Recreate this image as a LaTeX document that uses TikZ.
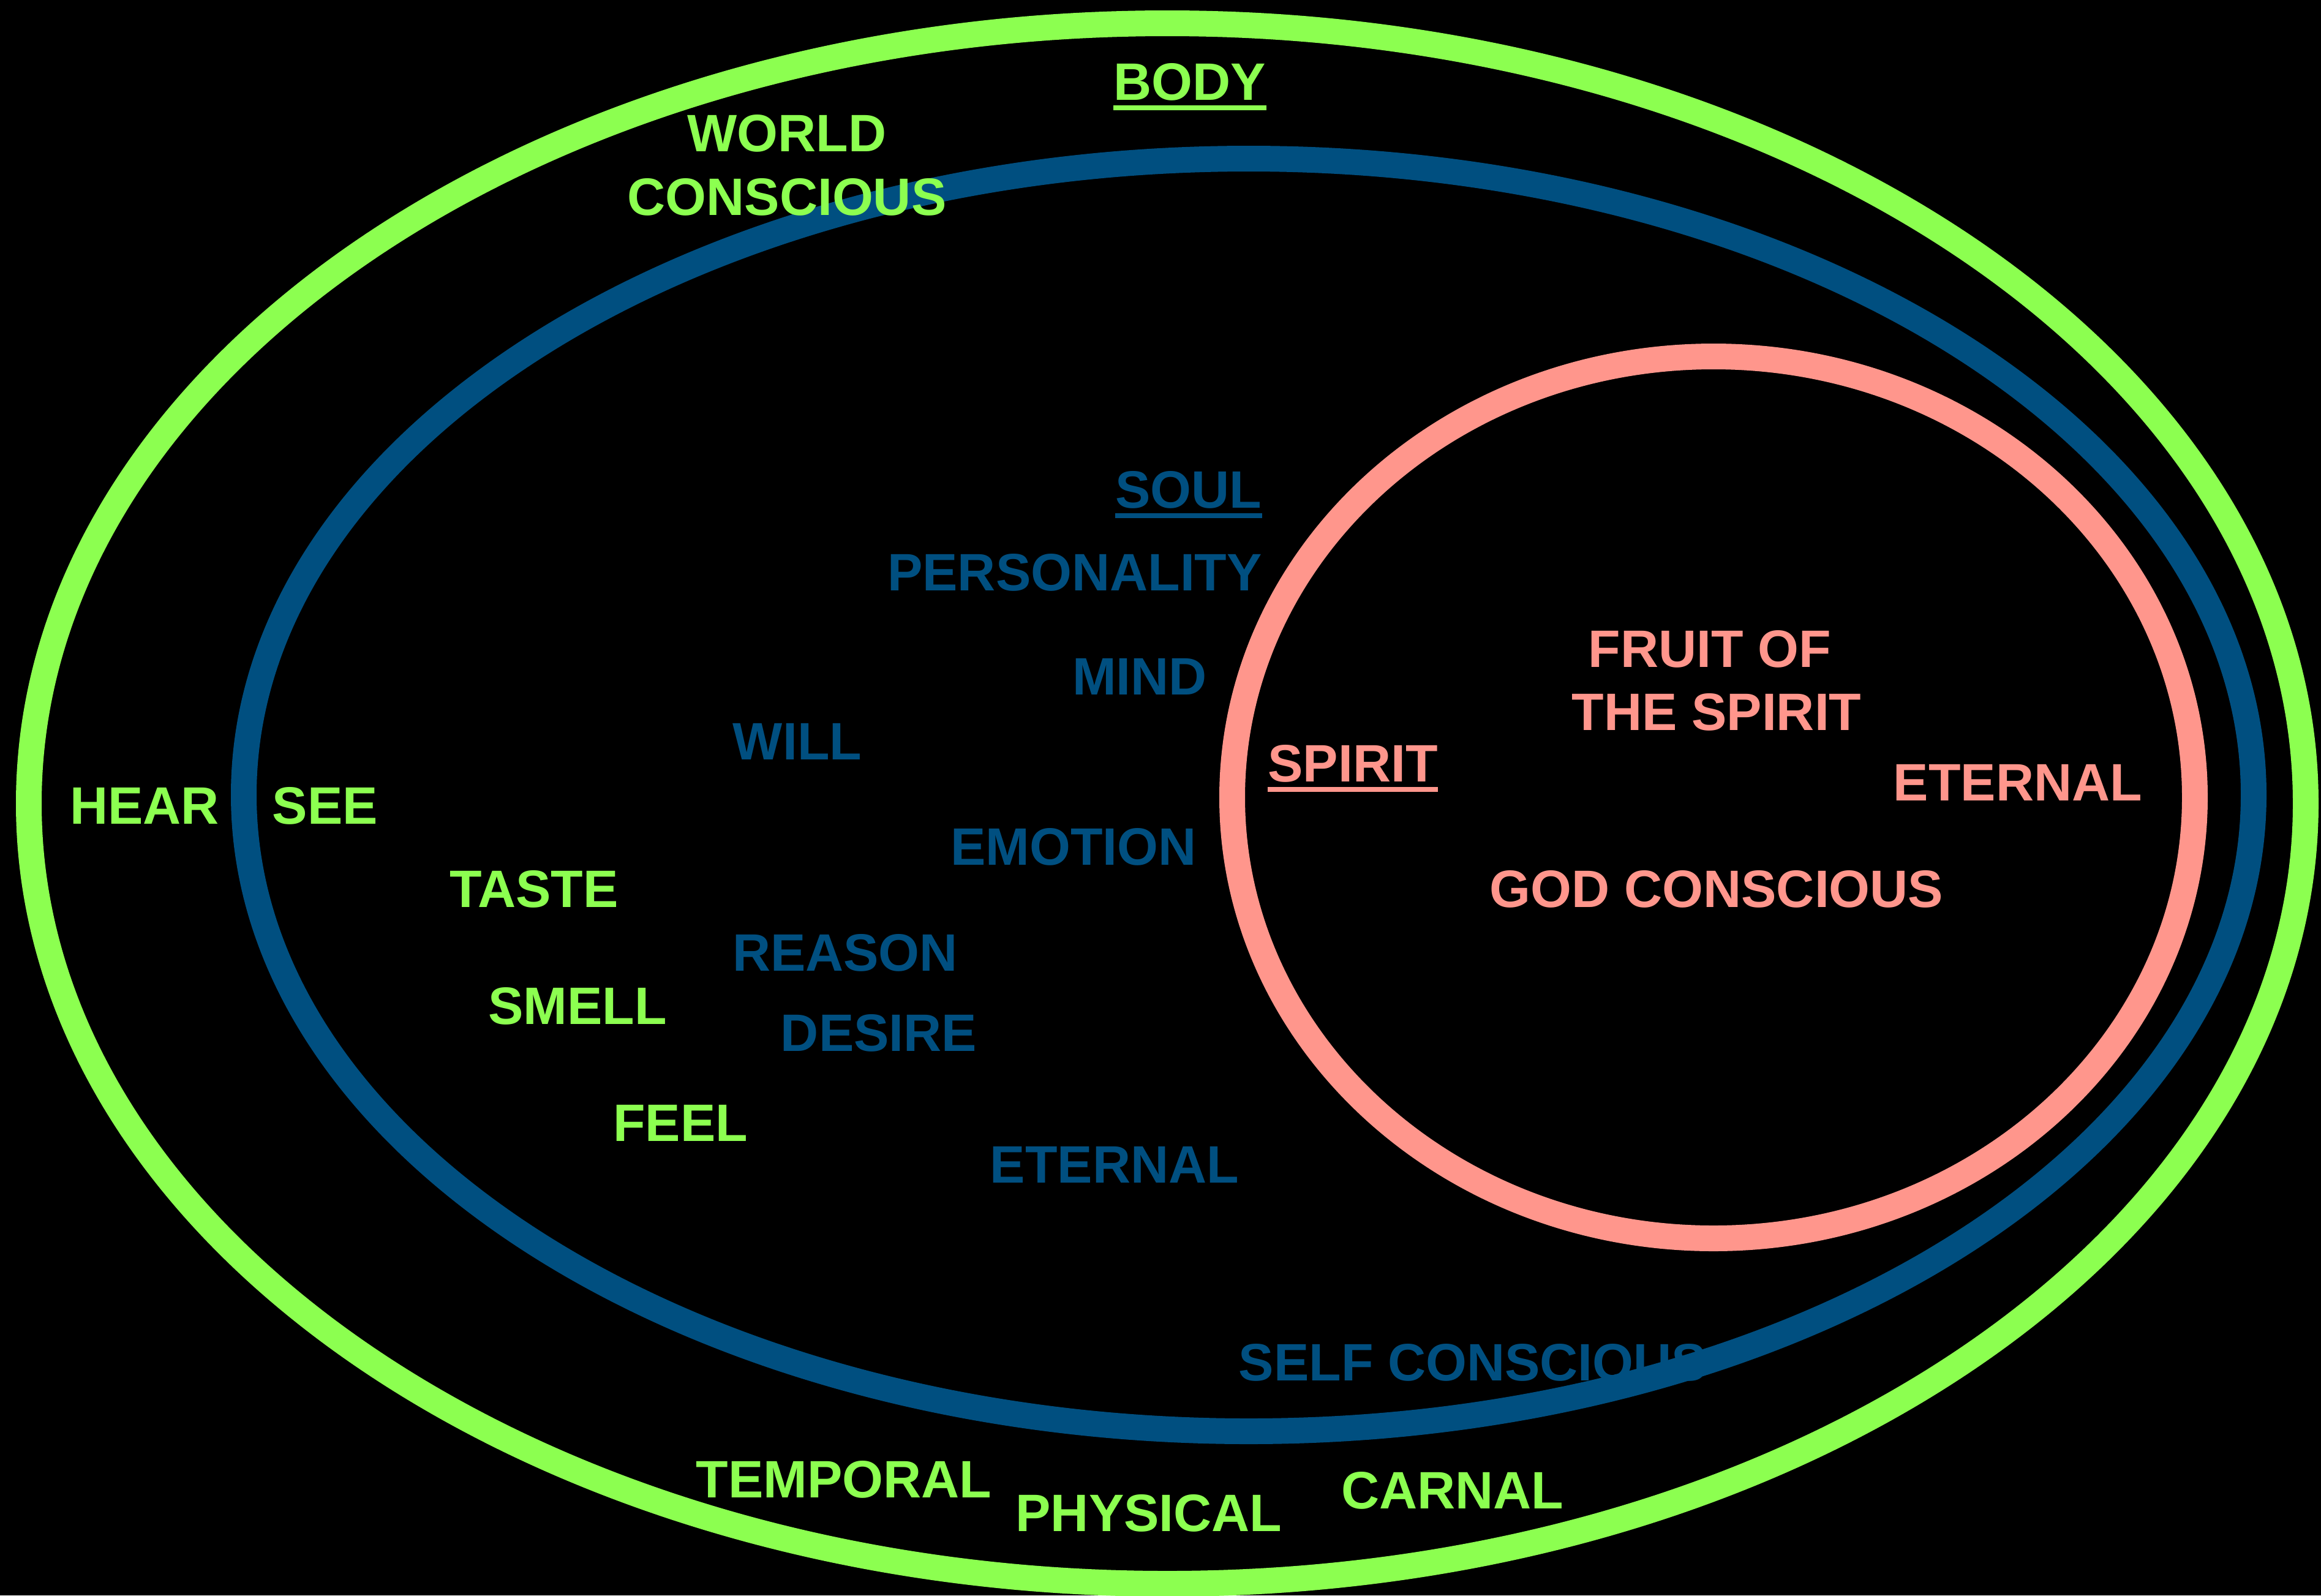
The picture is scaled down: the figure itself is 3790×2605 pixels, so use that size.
\documentclass[tikz,border=0pt]{standalone}
\usepackage{fontspec}
\setmainfont{Liberation Sans}
\definecolor{bodyg}{RGB}{140,255,80}
\definecolor{soulb}{RGB}{0,79,128}
\definecolor{spiritp}{RGB}{255,150,140}
\begin{document}
\begin{tikzpicture}[x=0.25pt,y=-0.25pt,
  lbl/.style={inner sep=0pt,anchor=base,font=\bfseries\fontsize{21.5pt}{25.75pt}\selectfont},
  gtxt/.style={lbl,text=bodyg},
  btxt/.style={lbl,text=soulb},
  ptxt/.style={lbl,text=spiritp},
  ring/.style={line width=10.5pt},
  uline/.style={line width=2pt}]
\fill[black] (0,0) rectangle (3790,2605);
\useasboundingbox (0,0) rectangle (3790,2605);
% rings
\draw[ring,bodyg] (1906,1312) ellipse [x radius=1859,y radius=1274];
\draw[ring,soulb] (2039,1298) ellipse [x radius=1641,y radius=1039];
\draw[ring,spiritp] (2798,1302) ellipse [x radius=786,y radius=720];
% body labels
\node[gtxt] (body) at (1943,163) {BODY};
\draw[uline,bodyg] ([yshift=-3.25pt]body.base west) -- ([yshift=-3.25pt]body.base east);
\node[gtxt] (world1) at (1285,247) {WORLD};
\node[gtxt] (world2) at (1285,351) {CONSCIOUS};
\node[gtxt] (hear) at (236,1345) {HEAR};
\node[gtxt] (see) at (531,1345) {SEE};
\node[gtxt] (taste) at (872,1481) {TASTE};
\node[gtxt] (smell) at (943,1672) {SMELL};
\node[gtxt] (feel) at (1111,1863) {FEEL};
\node[gtxt] (temporal) at (1378,2445) {TEMPORAL};
\node[gtxt] (physical) at (1876,2500) {PHYSICAL};
\node[gtxt] (carnal) at (2372,2463) {CARNAL};
% soul labels
\node[btxt] (soul) at (1941,829) {SOUL};
\draw[uline,soulb] ([yshift=-3.25pt]soul.base west) -- ([yshift=-3.25pt]soul.base east);
\node[btxt] (personality) at (1755,964) {PERSONALITY};
\node[btxt] (mind) at (1861,1134) {MIND};
\node[btxt] (will) at (1302,1240) {WILL};
\node[btxt] (emotion) at (1753,1412) {EMOTION};
\node[btxt] (reason) at (1380,1585) {REASON};
\node[btxt] (desire) at (1435,1716) {DESIRE};
\node[btxt] (eternals) at (1820,1931) {ETERNAL};
\node[btxt] (selfc) at (2405,2254) {SELF CONSCIOUS};
% spirit labels
\node[ptxt] (spirit) at (2209,1276) {SPIRIT};
\draw[uline,spiritp] ([yshift=-3.25pt]spirit.base west) -- ([yshift=-3.25pt]spirit.base east);
\node[ptxt] (fruit1) at (2792,1089) {FRUIT OF};
\node[ptxt] (fruit2) at (2803,1192) {THE SPIRIT};
\node[ptxt] (eternalp) at (3295,1307) {ETERNAL};
\node[ptxt] (godc) at (2803,1481) {GOD CONSCIOUS};
\end{tikzpicture}
\end{document}
